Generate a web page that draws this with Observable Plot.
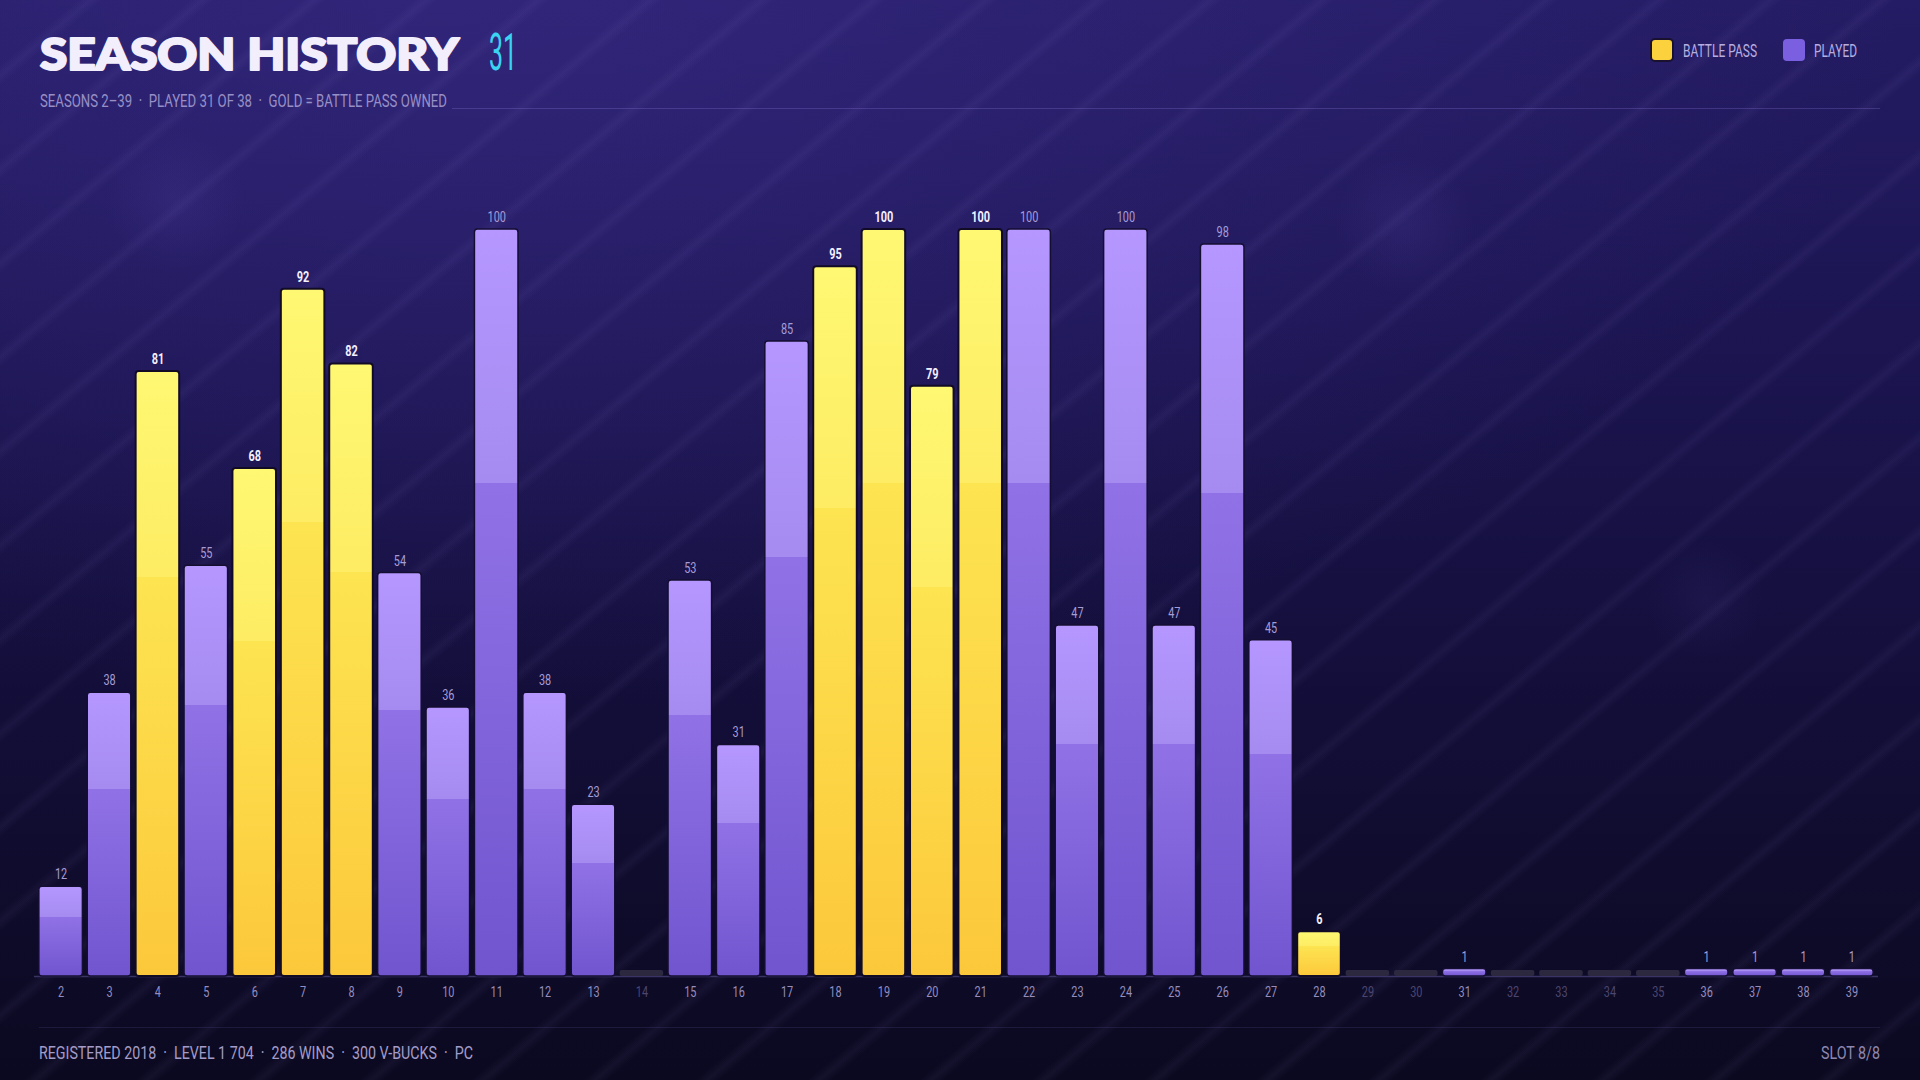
<!DOCTYPE html>
<html>
<head>
<meta charset="utf-8">
<script src="https://cdn.jsdelivr.net/npm/d3@7"></script>
<script src="https://cdn.jsdelivr.net/npm/@observablehq/plot@0.6"></script>
<style>
  html, body { margin: 0; padding: 0; }
  body {
    width: 1920px; height: 1080px; overflow: hidden; position: relative;
    background:
      radial-gradient(circle at 175px 200px, rgba(120,100,220,0.10) 0, rgba(120,100,220,0) 70px),
      radial-gradient(circle at 1405px 225px, rgba(120,100,220,0.10) 0, rgba(120,100,220,0) 70px),
      radial-gradient(circle at 1705px 600px, rgba(120,100,220,0.07) 0, rgba(120,100,220,0) 60px),
      repeating-linear-gradient(140deg, rgba(255,255,255,0) 0px, rgba(255,255,255,0) 50px, rgba(190,170,255,0.05) 58px, rgba(255,255,255,0) 66px, rgba(255,255,255,0) 72px),
      radial-gradient(ellipse 1400px 700px at 500px 0px, rgba(60,45,140,0.55) 0%, rgba(60,45,140,0) 100%),
      linear-gradient(180deg, #241c64 0%, #1c1552 30%, #140f3c 60%, #0b0920 100%);
    font-family: "Roboto", sans-serif;
  }
  #chart { position: absolute; left: 0; top: 120px; }
  #overlay { position: absolute; left: 0; top: 0; pointer-events: none; }
</style>
</head>
<body>
<div id="chart"></div>
<svg id="overlay" width="1920" height="1080"></svg>
<script>
// ---- data ----
const seasons = [2,3,4,5,6,7,8,9,10,11,12,13,14,15,16,17,18,19,20,21,22,23,24,25,26,27,28,29,30,31,32,33,34,35,36,37,38,39];
const levels  = [12,38,81,55,68,92,82,54,36,100,38,23,0,53,31,85,95,100,79,100,100,47,100,47,98,45,6,0,0,1,0,0,0,0,1,1,1,1];
const battlePass = [0,0,1,0,1,1,1,0,0,0,0,0,0,0,0,0,1,1,1,1,0,0,0,0,0,0,1,0,0,0,0,0,0,0,0,0,0,0];
const titleText = "SEASON HISTORY";
const titleCount = "31";
const subtitleText = "SEASONS 2–39  ·  PLAYED 31 OF 38  ·  GOLD = BATTLE PASS OWNED";
const legendLabels = ["BATTLE PASS", "PLAYED"];
const footerLeft = "REGISTERED 2018  ·  LEVEL 1 704  ·  286 WINS  ·  300 V-BUCKS  ·  PC";
const footerRight = "SLOT 8/8";

const gold = "#fcd13e", purple = "#7a5fe0";

// ---- header / legend / footer (real SVG text) ----
const ov = d3.select("#overlay");
function txt(str, x, y, opts) {
  const t = ov.append("text").attr("x", x).attr("y", y).text(str)
    .attr("fill", opts.fill).attr("font-size", opts.size)
    .attr("font-family", opts.family || "Roboto, sans-serif")
    .attr("font-weight", opts.weight || 400)
    .style("white-space", "pre");
  if (opts.len) t.attr("textLength", opts.len).attr("lengthAdjust", "spacingAndGlyphs");
  if (opts.anchor) t.attr("text-anchor", opts.anchor);
  if (opts.stroke) t.attr("stroke", opts.stroke).attr("stroke-width", opts.sw).attr("stroke-linejoin", "round");
  return t;
}
txt(titleText, 40, 70, { fill: "#f2eefc", size: 44, family: "Lato, Inter, sans-serif", weight: 900, len: 419, stroke: "#f2eefc", sw: 2.2 });
txt(titleCount, 489, 70, { fill: "#3ad3f2", size: 52, weight: 400, len: 28 });
txt(subtitleText, 40, 107, { fill: "#978fc6", size: 18.5, len: 407 });
ov.append("line").attr("x1", 452).attr("x2", 1880).attr("y1", 108.5).attr("y2", 108.5)
  .attr("stroke", "rgba(150,130,230,0.25)").attr("stroke-width", 1);
// legend
ov.append("rect").attr("x", 1651).attr("y", 39).attr("width", 22).attr("height", 22).attr("rx", 4)
  .attr("fill", gold).attr("stroke", "#1a1030").attr("stroke-width", 2);
txt(legendLabels[0], 1683, 57, { fill: "#b6aee0", size: 18, len: 74 });
ov.append("rect").attr("x", 1783).attr("y", 39).attr("width", 22).attr("height", 22).attr("rx", 4)
  .attr("fill", purple);
txt(legendLabels[1], 1814, 57, { fill: "#b6aee0", size: 18, len: 43 });
// footer
ov.append("line").attr("x1", 39).attr("x2", 1880).attr("y1", 1027.5).attr("y2", 1027.5)
  .attr("stroke", "rgba(150,130,230,0.13)").attr("stroke-width", 1);
txt(footerLeft, 39, 1059, { fill: "#a39cc8", size: 19, len: 434 });
txt(footerRight, 1880, 1059, { fill: "#8e88b0", size: 19, len: 59, anchor: "end" });

// ---- chart ----
const data = seasons.map((s, i) => ({
  season: String(s), level: levels[i], bp: battlePass[i] === 1, played: levels[i] > 0
}));
const played = data.filter(d => d.played);
const unplayed = data.filter(d => !d.played);

const chart = Plot.plot({
  width: 1920, height: 890,
  marginLeft: 34, marginRight: 42, marginTop: 109, marginBottom: 34,
  x: { domain: seasons.map(String), padding: 0.1, round: false, axis: null },
  y: { domain: [0, 100], axis: null },
  style: { background: "transparent", fontFamily: "Roboto, sans-serif", overflow: "visible" },
  marks: [
    Plot.ruleY([0], { stroke: "#3a3466", strokeWidth: 1.5 }),
    Plot.barY(unplayed, { x: "season", y: () => 0.8, fill: "#2b2840", rx: 2 }),
    Plot.barY(played.filter(d => !d.bp), { x: "season", y: "level", fill: "url(#gPlayed)", stroke: "#140e32", strokeWidth: 1.5, rx: 3 }),
    Plot.barY(played.filter(d => d.bp), { x: "season", y: "level", fill: "url(#gGold)", stroke: "#120b26", strokeWidth: 2, rx: 3 }),
    Plot.text(played.filter(d => !d.bp), { x: "season", y: "level", text: d => String(d.level), dy: -12, fill: "#a69cd6", fontSize: 14 }),
    Plot.text(played.filter(d => d.bp), { x: "season", y: "level", text: d => String(d.level), dy: -12, fill: "#f4f0ff", fontSize: 14, fontWeight: "bold" }),
    Plot.text(data, { x: "season", y: () => 0, text: "season", dy: 16, fill: d => d.played ? "#948dbe" : "#4c466e", fontSize: 14 })
  ]
});

const svg = d3.select(chart);
const defs = svg.insert("defs", ":first-child");
function grad(id, stops) {
  const g = defs.append("linearGradient").attr("id", id).attr("x1", 0).attr("y1", 0).attr("x2", 0).attr("y2", 1);
  stops.forEach(([o, c]) => g.append("stop").attr("offset", o).attr("stop-color", c));
}
grad("gPlayed", [[0, "#b597ff"], [0.34, "#a58bf0"], [0.34, "#9172e6"], [1, "#7055cf"]]);
grad("gGold", [[0, "#fff872"], [0.34, "#fdec64"], [0.34, "#fde451"], [1, "#fcc83b"]]);

// condense chart labels horizontally
svg.selectAll("text").each(function () {
  const tr = this.getAttribute("transform") || "";
  const xa = this.getAttribute("x");
  let extra = "";
  if (xa !== null && !isNaN(+xa)) { extra = ` translate(${+xa},0)`; this.removeAttribute("x"); }
  this.setAttribute("transform", `${tr}${extra} scale(0.78,1)`);
});

document.getElementById("chart").append(chart);
</script>
</body>
</html>
